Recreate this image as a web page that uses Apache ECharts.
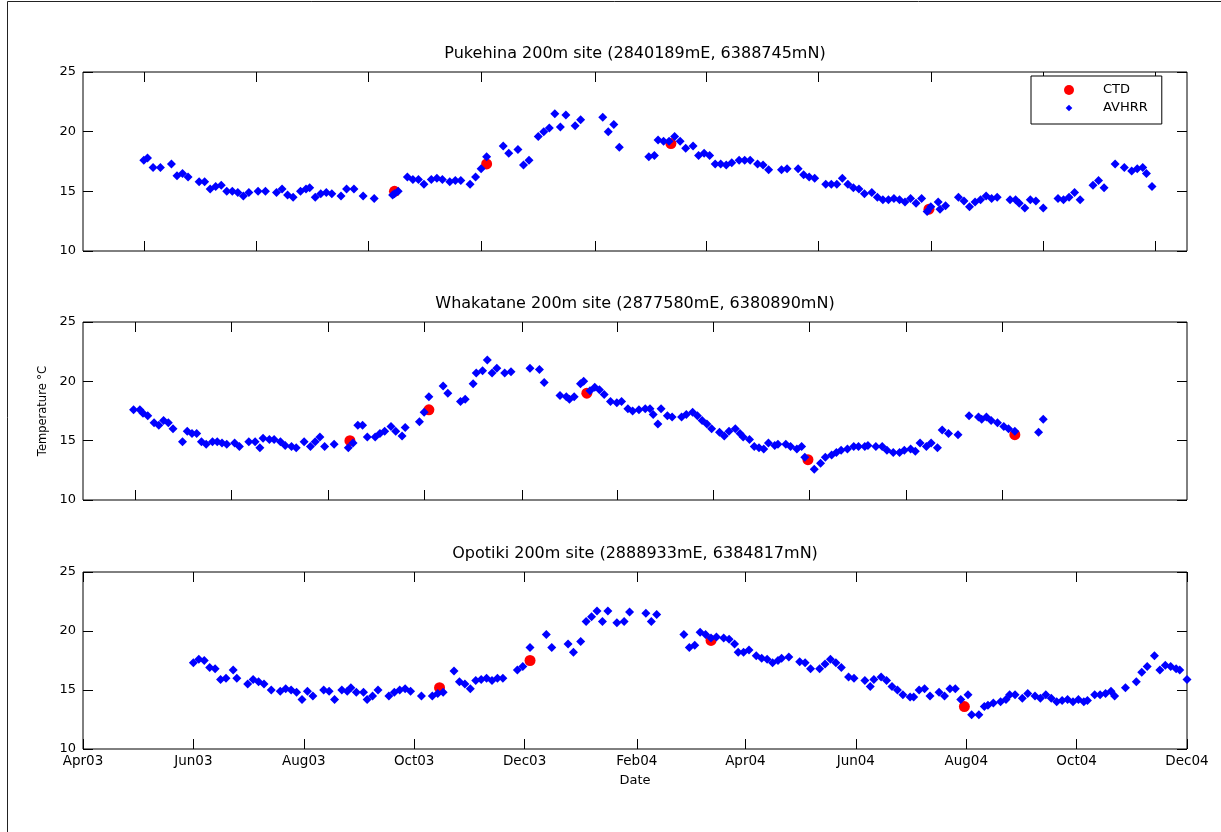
<!DOCTYPE html>
<html>
<head>
<meta charset="utf-8">
<title>Sea surface temperature at 200m sites</title>
<script src="https://cdn.jsdelivr.net/npm/echarts@6/dist/echarts.min.js"></script>
<style>
html, body { margin: 0; padding: 0; background: #fff; }
#chart { width: 1221px; height: 832px; }
</style>
</head>
<body>
<div id="chart"></div>
<script>
// days are counted from 1 Apr 2003
var dayZero = Date.UTC(2003, 3, 1);

var siteTitles = [
    'Pukehina 200m site (2840189mE, 6388745mN)',
    'Whakatane 200m site (2877580mE, 6380890mN)',
    'Opotiki 200m site (2888933mE, 6384817mN)'
];
var tickDates = ['2003-04-01', '2003-06-01', '2003-08-01', '2003-10-01', '2003-12-01', '2004-02-01',
    '2004-04-01', '2004-06-01', '2004-08-01', '2004-10-01', '2004-12-01'];
var tickLabels = ['Apr03', 'Jun03', 'Aug03', 'Oct03', 'Dec03', 'Feb04', 'Apr04', 'Jun04', 'Aug04', 'Oct04', 'Dec04'];

// Pukehina
var pukehinaCtdDay = [197, 247, 347, 487];
var pukehinaCtdTemp = [15.0, 17.3, 19.0, 13.5];
var pukehinaAvhrrDay = [61, 63, 66, 70, 76, 79, 82, 85, 91, 94, 97, 100, 103, 106, 109, 112, 115, 118, 123, 127,
    133, 136, 139, 142, 146, 149, 151, 154, 157, 160, 163, 168, 171, 175, 180, 186, 196, 197, 199, 204,
    207, 210, 213, 217, 220, 223, 227, 230, 233, 238, 241, 244, 247, 256, 259, 264, 267, 270, 275, 278,
    281, 284, 287, 290, 295, 298, 310, 313, 316, 319, 335, 338, 340, 343, 346, 349, 352, 355, 359, 362,
    365, 368, 371, 374, 377, 380, 384, 387, 390, 394, 397, 400, 407, 410, 416, 419, 422, 425, 431, 434,
    437, 440, 443, 446, 449, 452, 456, 459, 462, 465, 468, 471, 474, 477, 480, 483, 486, 488, 492, 493,
    496, 503, 506, 509, 512, 515, 518, 521, 524, 531, 534, 536, 539, 542, 545, 549, 557, 560, 563, 566,
    569, 576, 579, 582, 588, 593, 597, 600, 603, 605, 608];
var pukehinaAvhrrTemp = [17.6, 17.8, 17.0, 17.0, 17.3, 16.3, 16.5, 16.2, 15.8, 15.8, 15.2, 15.4, 15.5, 15.0, 15.0, 14.9, 14.6, 14.9, 15.0, 15.0,
    14.9, 15.2, 14.7, 14.5, 15.0, 15.2, 15.3, 14.5, 14.8, 14.9, 14.8, 14.6, 15.2, 15.2, 14.6, 14.4, 14.7, 14.8, 15.0, 16.2,
    16.0, 16.0, 15.6, 16.0, 16.1, 16.0, 15.8, 15.9, 15.9, 15.6, 16.2, 16.9, 17.9, 18.8, 18.2, 18.5, 17.2, 17.6, 19.6, 20.0,
    20.3, 21.5, 20.4, 21.4, 20.5, 21.0, 21.2, 20.0, 20.6, 18.7, 17.9, 18.0, 19.3, 19.2, 19.2, 19.6, 19.2, 18.6, 18.8, 18.0,
    18.2, 18.0, 17.3, 17.3, 17.2, 17.4, 17.6, 17.6, 17.6, 17.3, 17.2, 16.8, 16.8, 16.9, 16.9, 16.4, 16.2, 16.1, 15.6, 15.6,
    15.6, 16.1, 15.6, 15.3, 15.2, 14.8, 14.9, 14.5, 14.3, 14.3, 14.4, 14.3, 14.1, 14.4, 14.0, 14.4, 13.3, 13.7, 14.1, 13.5,
    13.8, 14.5, 14.2, 13.7, 14.1, 14.3, 14.6, 14.4, 14.5, 14.3, 14.3, 14.0, 13.6, 14.3, 14.2, 13.6, 14.4, 14.3, 14.5, 14.9,
    14.3, 15.5, 15.9, 15.3, 17.3, 17.0, 16.7, 16.9, 17.0, 16.5, 15.4];

// Whakatane
var whakataneCtdDay = [197, 247, 347, 487, 618];
var whakataneCtdTemp = [15.0, 17.6, 19.0, 13.4, 15.5];
var whakataneAvhrrDay = [60, 64, 66, 69, 73, 76, 79, 82, 85, 91, 94, 97, 100, 103, 106, 110, 113, 116, 119, 124,
    127, 133, 137, 140, 142, 146, 149, 153, 156, 160, 163, 168, 172, 175, 178, 181, 187, 196, 199, 202,
    205, 208, 213, 216, 219, 223, 226, 230, 232, 241, 244, 247, 256, 259, 267, 270, 275, 277, 281, 284,
    287, 290, 295, 299, 311, 317, 320, 330, 334, 336, 339, 343, 345, 349, 352, 355, 358, 362, 366, 369,
    373, 376, 380, 384, 387, 389, 392, 394, 398, 401, 407, 410, 414, 417, 420, 423, 426, 431, 434, 437,
    441, 444, 446, 450, 453, 456, 459, 462, 466, 468, 473, 476, 480, 483, 485, 491, 495, 498, 502, 505,
    508, 512, 516, 519, 523, 525, 530, 534, 537, 541, 545, 548, 552, 555, 558, 562, 565, 569, 572, 576,
    582, 589, 595, 597, 600, 603, 607, 611, 614, 618, 633, 636];
var whakataneAvhrrTemp = [17.6, 17.6, 17.3, 17.1, 16.5, 16.3, 16.7, 16.5, 16.0, 14.9, 15.8, 15.6, 15.6, 14.9, 14.7, 14.9, 14.9, 14.8, 14.7, 14.8,
    14.5, 14.9, 14.9, 14.4, 15.2, 15.1, 15.1, 14.9, 14.6, 14.5, 14.4, 14.9, 14.5, 14.9, 15.3, 14.5, 14.7, 14.4, 14.8, 16.3,
    16.3, 15.3, 15.3, 15.6, 15.8, 16.2, 15.8, 15.4, 16.1, 16.6, 17.4, 18.7, 19.6, 19.0, 18.3, 18.5, 19.8, 20.7, 20.9, 21.8,
    20.7, 21.1, 20.7, 20.8, 21.1, 21.0, 19.9, 18.8, 18.7, 18.5, 18.7, 19.8, 20.0, 19.2, 19.5, 19.3, 18.9, 18.3, 18.2, 18.3,
    17.7, 17.5, 17.6, 17.7, 17.7, 17.2, 16.4, 17.7, 17.1, 17.0, 17.0, 17.2, 17.4, 17.1, 16.7, 16.4, 16.0, 15.7, 15.4, 15.8,
    16.0, 15.6, 15.3, 15.1, 14.5, 14.4, 14.3, 14.8, 14.6, 14.7, 14.7, 14.5, 14.3, 14.5, 13.6, 12.6, 13.1, 13.6, 13.8, 14.0,
    14.2, 14.3, 14.5, 14.5, 14.5, 14.6, 14.5, 14.5, 14.2, 14.0, 14.0, 14.2, 14.3, 14.1, 14.8, 14.5, 14.8, 14.4, 15.9, 15.6,
    15.5, 17.1, 17.0, 16.8, 17.0, 16.7, 16.5, 16.2, 16.0, 15.8, 15.7, 16.8];

// Opotiki
var opotikiCtdDay = [197, 247, 347, 487];
var opotikiCtdTemp = [15.2, 17.5, 19.2, 13.6];
var opotikiAvhrrDay = [61, 64, 67, 70, 73, 76, 79, 83, 85, 91, 94, 97, 100, 104, 109, 112, 115, 118, 121, 124,
    127, 133, 136, 139, 143, 146, 148, 151, 155, 157, 160, 163, 169, 172, 175, 178, 181, 187, 193, 196,
    199, 205, 208, 211, 214, 217, 220, 223, 226, 229, 232, 240, 243, 247, 256, 259, 268, 271, 275, 278,
    281, 284, 287, 290, 295, 299, 302, 311, 314, 317, 332, 335, 338, 341, 344, 347, 350, 354, 357, 360,
    362, 365, 368, 372, 375, 378, 381, 384, 386, 390, 396, 399, 402, 407, 410, 413, 416, 419, 423, 426,
    432, 435, 437, 441, 444, 447, 450, 453, 457, 459, 462, 465, 468, 473, 476, 479, 482, 485, 489, 491,
    495, 498, 500, 503, 507, 510, 512, 515, 519, 522, 526, 529, 532, 535, 538, 541, 544, 547, 550, 553,
    555, 559, 562, 565, 568, 570, 576, 582, 585, 588, 592, 595, 598, 601, 604, 606, 610];
var opotikiAvhrrTemp = [17.3, 17.6, 17.5, 16.9, 16.8, 15.9, 16.0, 16.7, 16.0, 15.5, 15.9, 15.7, 15.5, 15.0, 14.9, 15.1, 15.0, 14.8, 14.2, 14.9,
    14.5, 15.0, 14.9, 14.2, 15.0, 14.9, 15.2, 14.8, 14.8, 14.2, 14.5, 15.0, 14.5, 14.8, 15.0, 15.1, 14.9, 14.5, 14.5, 14.7,
    14.8, 16.6, 15.7, 15.5, 15.1, 15.8, 15.9, 16.0, 15.8, 16.0, 16.0, 16.7, 17.0, 18.6, 19.7, 18.6, 18.9, 18.2, 19.1, 20.8,
    21.2, 21.7, 20.8, 21.7, 20.7, 20.8, 21.6, 21.5, 20.8, 21.4, 19.7, 18.6, 18.8, 19.9, 19.7, 19.4, 19.5, 19.4, 19.3, 18.9,
    18.2, 18.2, 18.4, 17.9, 17.7, 17.6, 17.3, 17.5, 17.7, 17.8, 17.4, 17.3, 16.8, 16.8, 17.2, 17.6, 17.3, 16.9, 16.1, 16.0,
    15.8, 15.3, 15.9, 16.1, 15.8, 15.3, 15.0, 14.6, 14.4, 14.4, 15.0, 15.1, 14.5, 14.8, 14.5, 15.1, 15.1, 14.2, 14.6, 12.9,
    12.9, 13.6, 13.7, 13.9, 14.0, 14.2, 14.6, 14.6, 14.3, 14.7, 14.5, 14.3, 14.6, 14.3, 14.0, 14.1, 14.2, 14.0, 14.2, 14.0,
    14.1, 14.6, 14.6, 14.7, 14.9, 14.5, 15.2, 15.7, 16.5, 17.0, 17.9, 16.7, 17.1, 17.0, 16.8, 16.7, 15.9];

var ctdDays = [pukehinaCtdDay, whakataneCtdDay, opotikiCtdDay];
var ctdTemps = [pukehinaCtdTemp, whakataneCtdTemp, opotikiCtdTemp];
var avhrrDays = [pukehinaAvhrrDay, whakataneAvhrrDay, opotikiAvhrrDay];
var avhrrTemps = [pukehinaAvhrrTemp, whakataneAvhrrTemp, opotikiAvhrrTemp];

// each subplot was scaled on its own, x limits in days
var panelRange = [[28, 627], [28, 727], [0, 610]];
var gridTops = [72, 322, 572];
var gridHeights = [179, 178, 177];

function toTime(day) {
    return dayZero + day * 86400000;
}
function parseDate(s) {
    var p = s.split('-');
    return Date.UTC(+p[0], +p[1] - 1, +p[2]);
}
var tickTimes = tickDates.map(parseDate);

function tickLabel(v) {
    for (var i = 0; i < tickTimes.length; i++) {
        if (Math.abs(tickTimes[i] - v) < 86400000) return tickLabels[i];
    }
    return '';
}

var font = 'DejaVu Sans';
var grids = [], xAxes = [], yAxes = [], series = [];

for (var i = 0; i < 3; i++) {
    grids.push({
        left: 83, top: gridTops[i], width: 1104, height: gridHeights[i],
        show: true, borderColor: '#000', borderWidth: 1, backgroundColor: 'transparent',
        outerBoundsMode: 'none'
    });
    var ticks = i === 2 ? tickTimes : tickTimes.slice(1);
    ['bottom', 'top'].forEach(function (side) {
        var isTop = side === 'top';
        xAxes.push({
            type: 'value', gridIndex: i, position: side,
            min: toTime(panelRange[i][0]), max: toTime(panelRange[i][1]),
            axisLine: {show: false},
            axisTick: {show: true, inside: true, length: 10, customValues: ticks, lineStyle: {color: '#000'}},
            axisLabel: {
                show: i === 2 && !isTop, customValues: ticks, formatter: tickLabel,
                color: '#000', fontSize: 13.5, fontFamily: font, margin: 5,
                showMinLabel: true, showMaxLabel: true
            },
            splitLine: {show: false},
            name: isTop ? siteTitles[i] : (i === 2 ? 'Date' : ''),
            nameLocation: 'middle',
            nameGap: isTop ? 10 : 25,
            nameTextStyle: {color: '#000', fontSize: isTop ? 16 : 13, fontFamily: font}
        });
    });
    ['left', 'right'].forEach(function (side) {
        var isLeft = side === 'left';
        yAxes.push({
            type: 'value', gridIndex: i, position: side,
            min: 10, max: 25, interval: 5,
            axisLine: {show: false},
            axisTick: {show: true, inside: true, length: 10, lineStyle: {color: '#000'}},
            axisLabel: {show: isLeft, color: '#000', fontSize: 13, fontFamily: font, margin: 7},
            splitLine: {show: false},
            name: (i === 1 && isLeft) ? 'Temperature °C' : '',
            nameLocation: 'middle',
            nameGap: 34,
            nameTextStyle: {color: '#000', fontSize: 11.5, fontFamily: font}
        });
    });

    series.push({
        name: 'CTD', type: 'scatter', xAxisIndex: i * 2, yAxisIndex: i * 2,
        symbol: 'circle', symbolSize: 11, z: 2,
        itemStyle: {color: '#ff0000', opacity: 1},
        data: ctdDays[i].map(function (d, k) { return [toTime(d), ctdTemps[i][k]]; })
    });
    series.push({
        name: 'AVHRR', type: 'scatter', xAxisIndex: i * 2, yAxisIndex: i * 2,
        symbol: 'diamond', symbolSize: 9, z: 3,
        itemStyle: {color: '#0000ff', opacity: 1},
        data: avhrrDays[i].map(function (d, k) { return [toTime(d), avhrrTemps[i][k]]; })
    });
}

var chart = echarts.init(document.getElementById('chart'));
chart.setOption({
    animation: false,
    backgroundColor: '#fff',
    textStyle: {fontFamily: font},
    grid: grids,
    xAxis: xAxes,
    yAxis: yAxes,
    legend: {
        data: ['CTD', {name: 'AVHRR', icon: 'path://M0,0M6,2L10,6L6,10L2,6ZM12,12'}],
        orient: 'vertical',
        left: 1031, top: 76,
        padding: [7, 14, 9, 33],
        itemWidth: 10, itemHeight: 10, itemGap: 4,
        backgroundColor: '#fff', borderColor: '#000', borderWidth: 1, borderRadius: 0,
        selectedMode: false,
        textStyle: {color: '#000', fontSize: 13, fontFamily: font, lineHeight: 14, padding: [0, 0, 0, 24]}
    },
    graphic: [{
        type: 'rect', silent: true, z: -10,
        shape: {x: 7.5, y: 1.5, width: 1300, height: 900},
        style: {fill: 'none', stroke: '#222', lineWidth: 1}
    }],
    series: series
});
</script>
</body>
</html>
